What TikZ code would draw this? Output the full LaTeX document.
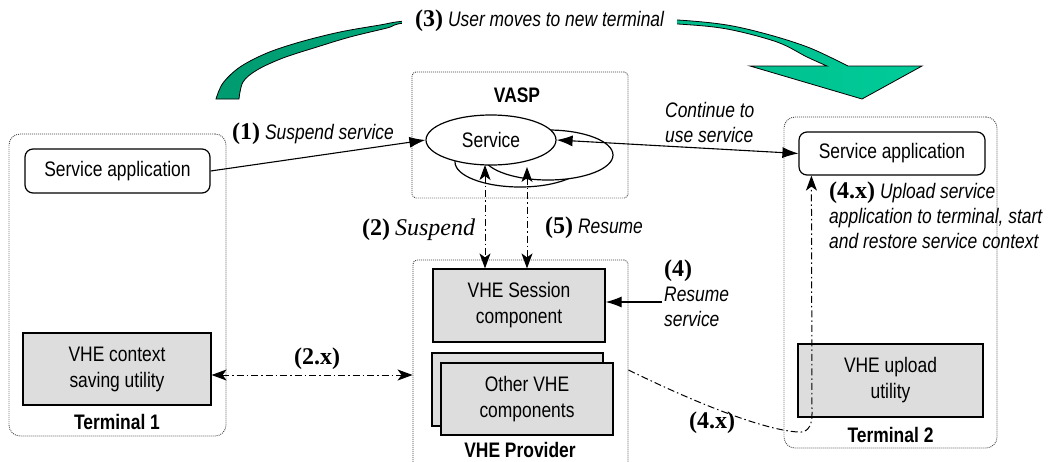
\documentclass[tikz,border=0pt]{standalone}
\usepackage{fontspec}
\newfontfamily\sans{Liberation Sans}[FakeStretch=0.83]
\newfontfamily\serif{Liberation Serif}
\usetikzlibrary{arrows.meta,shapes.geometric}
\definecolor{compgray}{RGB}{221,221,221}
\definecolor{grnL}{RGB}{0,155,112}
\definecolor{grnR}{RGB}{0,204,153}
\newcommand\stepno[1]{{\serif\bfseries\upshape\fontsize{24}{26}\selectfont #1}}
\tikzset{
  every node/.style={font=\sans\fontsize{21}{26}\selectfont, inner sep=0pt},
  container/.style={draw=black!75, line width=0.9pt, dash pattern=on 0.9pt off 1.1pt, rounded corners=11pt},
  panel/.style={draw=black!75, line width=0.9pt, dash pattern=on 0.9pt off 1.1pt, rounded corners=4pt},
  title/.style={font=\sans\bfseries\fontsize{21}{26}\selectfont},
  lbl/.style={font=\sans\itshape\fontsize{21}{25}\selectfont},
  app/.style={draw, line width=1.2pt, rounded corners=8pt, fill=white},
  comp/.style={draw, line width=1.2pt, fill=compgray, align=center},
  svcell/.style={ellipse, draw, line width=1.2pt, fill=white, minimum width=130pt, minimum height=50pt},
  solidarrow/.style={line width=1.1pt, -{Latex[length=16pt,width=11pt]}},
  biarrow/.style={line width=1.1pt, {Latex[length=16pt,width=11pt]}-{Latex[length=16pt,width=11pt]}},
  dd/.style={line width=1pt, dash pattern=on 7pt off 3pt on 1.5pt off 3pt},
  ddtip/.tip={Stealth[length=15pt,width=11pt,inset=4pt]},
}
\begin{document}
\begin{tikzpicture}[x=1pt, y=-1pt]
\fill[white] (0,0) rectangle (1048,461);
\useasboundingbox (0,0) rectangle (1048,461);

% dotted containers
\node[container, minimum width=217pt, minimum height=302pt] (term1) at (117.5,285) {};
\node[container, minimum width=213pt, minimum height=331pt] (term2) at (890.5,282.5) {};
\node[panel, minimum width=216pt, minimum height=126pt] (vasp) at (520,135) {};
\node[panel, minimum width=215pt, minimum height=210pt] (prov) at (520.5,365) {};

\node[title, anchor=base] (t1) at (117,429) {Terminal 1};
\node[title, anchor=base] (t2) at (890.5,442) {Terminal 2};
\node[title, anchor=base] (tv) at (517,102) {VASP};
\node[title, anchor=base] (tp) at (520,457) {VHE Provider};

% curved green arrow: user moving between terminals
\path[draw=black, line width=0.8pt, left color=grnL, right color=grnR]
  plot[smooth, tension=0.55] coordinates {(216,99) (223,83) (240,67) (267,53) (300,42) (340,32) (380,25) (405,21) (470,17) (540,16) (610,17) (678,20) (727,25) (770,35) (810,48) (848,66)}
  -- (922,66) -- (862,99) -- (750,66) -- (827,66)
  -- plot[smooth, tension=0.55] coordinates {(827,66) (807,57) (777,42) (727,29) (678,24) (610,21) (540,20) (470,21) (405,23) (387,28) (350,37) (317,47) (283,58) (257,70) (243,82) (239,99)}
  -- cycle;
\node[lbl, fill=white, inner xsep=13pt, inner ysep=5pt, anchor=base west] (l3) at (402,26) {\stepno{(3)} User moves to new terminal};

% service instances in the VASP
\node[svcell] (svcC) at (520,162) {};
\node[svcell] (svcB) at (548,155) {};
\node[svcell] (svc) at (491,140) {Service};

% terminal applications
\node[app, minimum width=185pt, minimum height=44pt] (app1) at (117.5,171) {Service application};
\node[app, minimum width=186pt, minimum height=43pt] (app2) at (892,153.5) {Service application};

% VHE components
\node[comp, minimum width=188pt, minimum height=72pt] (ctx) at (117,369) {VHE context\\saving utility};
\node[comp, minimum width=172pt, minimum height=73pt] (sess) at (519,305.5) {VHE Session\\component};
\node[comp, minimum width=171pt, minimum height=73pt] (othB) at (517.5,389.5) {};
\node[comp, minimum width=172pt, minimum height=72pt] (oth) at (527,399) {Other VHE\\components};
\node[comp, minimum width=185pt, minimum height=73pt] (upl) at (890.5,380.5) {VHE upload\\utility};

% step labels (multi-line labels are anchored at their last line)
\node[lbl, anchor=base west] (l1) at (232,139) {\stepno{(1)} Suspend service};
\node[lbl, anchor=base west, align=left] (lc) at (665,142) {Continue to\\use service};
\node[lbl, anchor=base west] (l2) at (362,235) {\stepno{(2)} {\serif\itshape\fontsize{24}{26}\selectfont Suspend}};
\node[lbl, anchor=base west] (l5) at (545,233) {\stepno{(5)} Resume};
\node[lbl, anchor=base west, align=left] (l4) at (664,326) {\stepno{(4)}\\Resume\\service};
\node[anchor=base] (l2x) at (317,364) {\stepno{(2.x)}};
\node[anchor=base] (l4x) at (712,428) {\stepno{(4.x)}};
\node[lbl, anchor=base west, align=left] (l4u) at (829,248) {\stepno{(4.x)} Upload service\\application to terminal, start\\and restore service context};

% connector end points
\coordinate (s2top) at (485,165);
\coordinate (s5top) at (527,167);
\coordinate (r4) at (662,302);
\coordinate (up4) at ([xshift=13pt]app2.south west);

% connectors
\draw[solidarrow] (app1.east) -- (svc.west);
\draw[biarrow] (svc.east) -- (app2.west);
\draw[dd, ddtip-ddtip] (s2top) -- ([xshift=-34pt]sess.north);
\draw[dd, ddtip-ddtip] (s5top) -- ([xshift=8pt]sess.north);
\draw[solidarrow] (r4) -- (sess.east |- r4);
\draw[dd, ddtip-ddtip] ([yshift=-6pt]ctx.east) -- ([yshift=-10pt]prov.west);
\draw[dd, -ddtip] ([yshift=-5pt]prov.east) .. controls (700,405) and (765,430) .. (798,432)
  .. controls (806,433) and (812,428) .. (812,414) -- (up4);
\end{tikzpicture}
\end{document}
